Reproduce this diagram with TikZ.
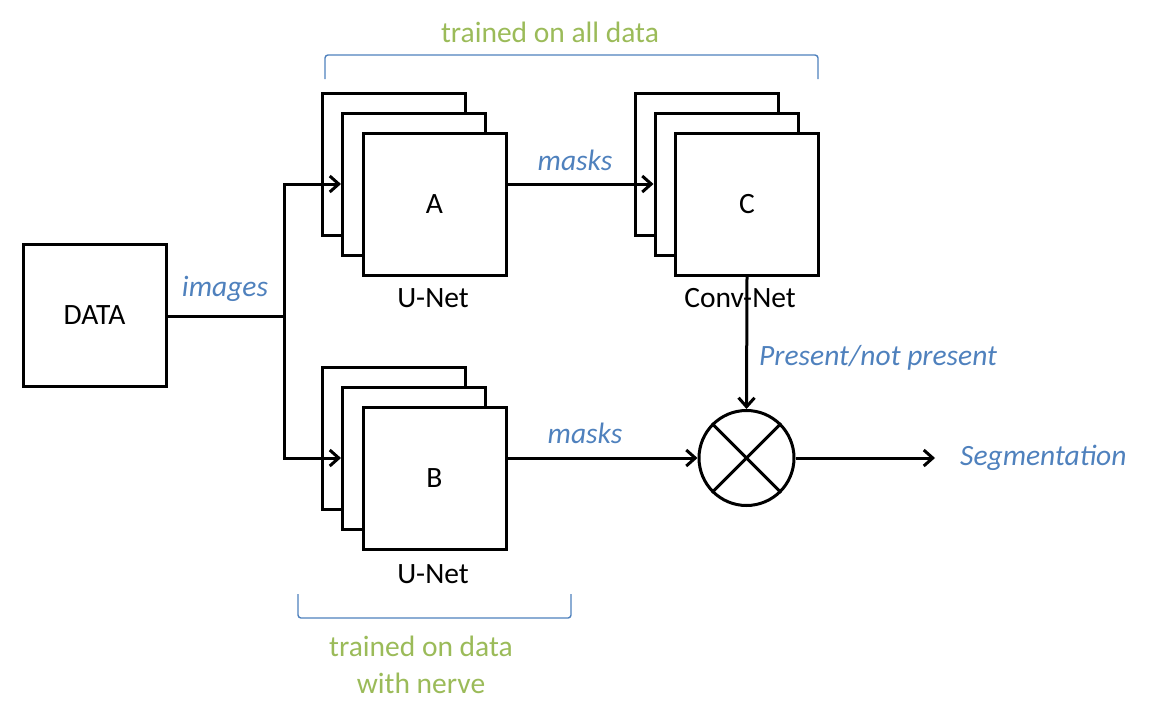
\documentclass[tikz,border=0pt]{standalone}
\usepackage{fontspec}
\setmainfont{Carlito}
\usetikzlibrary{arrows.meta}
\definecolor{txtblue}{HTML}{4F81BD}
\definecolor{txtgreen}{HTML}{9BBB59}
\begin{document}
\begin{tikzpicture}[x=1pt,y=-1pt,
  lbl/.style={font=\fontsize{29.5}{35}\selectfont, text=black, inner sep=0pt},
  edgelbl/.style={font=\fontsize{29.5}{35}\selectfont\itshape, text=txtblue, inner sep=0pt},
  grn/.style={font=\fontsize{29.5}{37}\selectfont, text=txtgreen, inner sep=0pt, align=center},
  box/.style={draw=black, line width=3pt, fill=white, minimum width=143pt, minimum height=142pt, inner sep=0pt, font=\fontsize{29.5}{35}\selectfont},
  conn/.style={draw=black, line width=3pt, line join=miter},
  arr/.style={conn, -{Straight Barb[length=9pt,width=16pt,line width=3pt]}},
  brk/.style={draw=txtblue, line width=1.4pt, rounded corners=3pt},
]
\useasboundingbox (0,0) rectangle (1156,718);

% DATA
\node[box] (data) at (94.5,315) {DATA};

% Stack A
\node[box] (aback) at (394,164) {};
\node[box] (amid) at (414,184) {};
\node[box] (afront) at (434.5,204) {A};
\node[lbl] (anet) at (433,298) {U-Net};

% Stack C
\node[box] (cback) at (706.5,164) {};
\node[box] (cmid) at (726.5,184) {};
\node[box] (cfront) at (747,204) {C};
\node[lbl] (cnet) at (740,298) {Conv-Net};

% Stack B
\node[box] (bback) at (394,438) {};
\node[box] (bmid) at (414,458) {};
\node[box] (bfront) at (434.5,478) {B};
\node[lbl] (bnet) at (433,574) {U-Net};

% Combiner
\node[circle, draw=black, line width=3pt, minimum size=95pt, inner sep=0pt] (mix) at (746.5,458) {};
\draw[conn] (mix.45) -- (mix.225);
\draw[conn] (mix.135) -- (mix.315);

% junction
\coordinate (j) at (284,316);
\coordinate (seg) at (935,458);

% connectors
\draw[conn] (data.east |- j) -- (j);
\draw[arr] (j) |- (amid.west);
\draw[arr] (j) |- (bmid.west);
\draw[arr] (afront.east |- amid.west) -- (cmid.west);
\draw[arr] (bfront.east |- bmid.west) -- (mix.west);
\draw[arr] (cfront.south) -- (mix.north);
\draw[arr] (mix.east) -- (seg);

% edge labels
\node[edgelbl] (limages) at (225,289) {images};
\node[edgelbl] (lmasks1) at (575,160) {masks};
\node[edgelbl] (lmasks2) at (585,433) {masks};
\node[edgelbl, anchor=west] (lpres) at (759,358) {Present/not present};
\node[edgelbl, anchor=west] (lseg) at (960,458) {Segmentation};

% brackets
\coordinate (t1) at (325,79);
\coordinate (t2) at (325,55);
\coordinate (t3) at (818,55);
\coordinate (t4) at (818,79);
\draw[brk] (t1) -- (t2) -- (t3) -- (t4);
\coordinate (b1) at (298,594);
\coordinate (b2) at (298,618);
\coordinate (b3) at (571,618);
\coordinate (b4) at (571,594);
\draw[brk] (b1) -- (b2) -- (b3) -- (b4);

\node[grn] (gtop) at (550,32) {trained on all data};
\node[grn] (gbot) at (421,665) {trained on data\\with nerve};
\end{tikzpicture}
\end{document}
